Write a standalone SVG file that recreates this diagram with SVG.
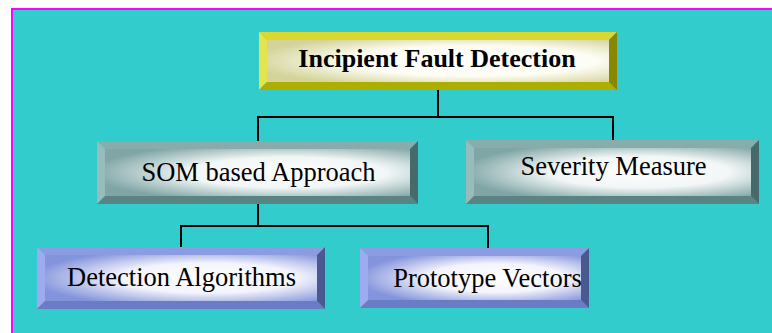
<svg xmlns="http://www.w3.org/2000/svg" width="772" height="333" viewBox="0 0 772 333">
  <defs>
    <radialGradient id="faceGold" cx="0.6" cy="0.5" r="0.65">
      <stop offset="0" stop-color="#ffffff"/>
      <stop offset="0.55" stop-color="#fdfdf4"/>
      <stop offset="1" stop-color="#d4d49a"/>
    </radialGradient>
    <radialGradient id="faceTeal" cx="0.6" cy="0.5" r="0.65">
      <stop offset="0" stop-color="#ffffff"/>
      <stop offset="0.5" stop-color="#f2f6f6"/>
      <stop offset="1" stop-color="#7fa5a5"/>
    </radialGradient>
    <radialGradient id="faceBlue" cx="0.6" cy="0.5" r="0.65">
      <stop offset="0" stop-color="#ffffff"/>
      <stop offset="0.5" stop-color="#f3f4fc"/>
      <stop offset="1" stop-color="#8494dc"/>
    </radialGradient>
    <style>
      .lbl { font-family: "Liberation Serif", "Times New Roman", serif; font-size: 26.5px; fill: #000; text-anchor: middle; }
      .bold { font-weight: bold; font-size: 26px; }
      .link { fill: none; stroke: #000; stroke-width: 2; }
      .gT { fill: #d8d830; } .gL { fill: #e4e44c; } .gB { fill: #aeae00; } .gR { fill: #888800; }
      .tT { fill: #88acac; } .tL { fill: #98bcbc; } .tB { fill: #5a8484; } .tR { fill: #466a6a; }
      .bT { fill: #8c9ce0; } .bL { fill: #9cacee; } .bB { fill: #6a7cc4; } .bR { fill: #4a5a90; }
    </style>
  </defs>

  <!-- page background and frame -->
  <rect x="0" y="0" width="772" height="333" fill="#ffffff"/>
  <rect x="11" y="8" width="761" height="325" fill="#ff00ff"/>
  <rect x="13" y="10" width="759" height="323" fill="#33cccc"/>

  <!-- connectors -->
  <g id="connectors">
    <path class="link" d="M258,141 V117 H613 V140 M438,90 V117"/>
    <path class="link" d="M181,247 V226 H488 V248 M258,204 V226"/>
  </g>

  <!-- root -->
  <g id="incipient-fault-detection">
    <polygon class="gT" points="259,32 617,32 609,40 267,40"/>
    <polygon class="gL" points="259,32 267,40 267,82 259,90"/>
    <polygon class="gB" points="259,90 267,82 609,82 617,90"/>
    <polygon class="gR" points="617,32 617,90 609,82 609,40"/>
    <rect x="267" y="40" width="342" height="42" fill="url(#faceGold)"/>
    <text class="lbl bold" x="437" y="67">Incipient Fault Detection</text>
  </g>

  <g id="som-based-approach">
    <polygon class="tT" points="97,141 418,141 410,149 105,149"/>
    <polygon class="tL" points="97,141 105,149 105,196 97,204"/>
    <polygon class="tB" points="97,204 105,196 410,196 418,204"/>
    <polygon class="tR" points="418,141 418,204 410,196 410,149"/>
    <rect x="105" y="149" width="305" height="47" fill="url(#faceTeal)"/>
    <text class="lbl" x="258.5" y="181">SOM based Approach</text>
  </g>

  <g id="severity-measure">
    <polygon class="tT" points="466,140 759,140 751,148 474,148"/>
    <polygon class="tL" points="466,140 474,148 474,196 466,204"/>
    <polygon class="tB" points="466,204 474,196 751,196 759,204"/>
    <polygon class="tR" points="759,140 759,204 751,196 751,148"/>
    <rect x="474" y="148" width="277" height="48" fill="url(#faceTeal)"/>
    <text class="lbl" x="613.5" y="175">Severity Measure</text>
  </g>

  <g id="detection-algorithms">
    <polygon class="bT" points="37,247 325,247 317,255 45,255"/>
    <polygon class="bL" points="37,247 45,255 45,301 37,309"/>
    <polygon class="bB" points="37,309 45,301 317,301 325,309"/>
    <polygon class="bR" points="325,247 325,309 317,301 317,255"/>
    <rect x="45" y="255" width="272" height="46" fill="url(#faceBlue)"/>
    <text class="lbl" x="181.5" y="286">Detection Algorithms</text>
  </g>

  <g id="prototype-vectors">
    <polygon class="bT" points="360,248 589,248 581,256 368,256"/>
    <polygon class="bL" points="360,248 368,256 368,300 360,308"/>
    <polygon class="bB" points="360,308 368,300 581,300 589,308"/>
    <polygon class="bR" points="589,248 589,308 581,300 581,256"/>
    <rect x="368" y="256" width="213" height="44" fill="url(#faceBlue)"/>
    <text class="lbl" x="487.5" y="287">Prototype Vectors</text>
  </g>
</svg>
